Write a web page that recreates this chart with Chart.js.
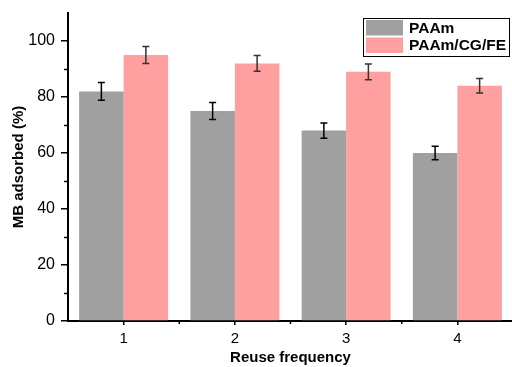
<!DOCTYPE html>
<html>
<head>
<meta charset="utf-8">
<script src="https://cdn.jsdelivr.net/npm/chart.js@4.4.1/dist/chart.umd.min.js"></script>
<style>
  html, body { margin: 0; padding: 0; background: #fff; overflow: hidden; width: 512px; height: 367px; }
  #wrap { position: absolute; left: 0; top: 0; width: 520px; height: 367px; }
  canvas { display: block; }
</style>
</head>
<body>
<div id="wrap"><canvas id="c" width="520" height="367"></canvas></div>
<script>
const categories = ['1', '2', '3', '4'];
const paamValues = [82, 75, 68, 60];
const paamErrors = [3.2, 3.0, 2.7, 2.4];
const compositeValues = [95, 92, 89, 84];
const compositeErrors = [3.0, 2.8, 2.8, 2.6];
const seriesLabels = ['PAAm', 'PAAm/CG/FE'];
const yMinorTicks = [10, 30, 50, 70, 90];

const FONT = '"Liberation Sans", Arial, sans-serif';

const errorBarPlugin = {
  id: 'errorBars',
  afterDatasetsDraw(chart) {
    const ctx = chart.ctx;
    const y = chart.scales.y;
    chart.data.datasets.forEach((ds, di) => {
      const meta = chart.getDatasetMeta(di);
      meta.data.forEach((bar, i) => {
        const v = ds.data[i], e = ds.errors[i];
        const top = y.getPixelForValue(v + e);
        const bot = y.getPixelForValue(v - e);
        const x = bar.x;
        ctx.save();
        ctx.strokeStyle = ds.errorColor;
        ctx.lineWidth = 1.5;
        ctx.beginPath();
        ctx.moveTo(x, top); ctx.lineTo(x, bot);
        ctx.moveTo(x - 3.5, top); ctx.lineTo(x + 3.5, top);
        ctx.moveTo(x - 3.5, bot); ctx.lineTo(x + 3.5, bot);
        ctx.stroke();
        ctx.restore();
      });
    });
  }
};

const minorTickPlugin = {
  id: 'minorTicks',
  afterDraw(chart) {
    const ctx = chart.ctx;
    const ys = chart.scales.y, xs = chart.scales.x;
    const area = chart.chartArea;
    ctx.save();
    ctx.strokeStyle = '#000';
    ctx.lineWidth = 1.5;
    ctx.beginPath();
    yMinorTicks.forEach(v => {
      const py = Math.round(ys.getPixelForValue(v)) + 0.5;
      ctx.moveTo(area.left - 4, py); ctx.lineTo(area.left, py);
    });
    for (let i = 0; i < categories.length - 1; i++) {
      const px = (xs.getPixelForValue(i) + xs.getPixelForValue(i + 1)) / 2;
      ctx.moveTo(px, area.bottom); ctx.lineTo(px, area.bottom + 3);
    }
    ctx.stroke();
    ctx.restore();
  }
};

const legendPlugin = {
  id: 'customLegend',
  afterDraw(chart) {
    const ctx = chart.ctx;
    const bx = 363, by = 18, bw = 146, bh = 38;
    ctx.save();
    ctx.strokeStyle = '#000';
    ctx.lineWidth = 1;
    ctx.strokeRect(bx + 0.5, by + 0.5, bw, bh);
    ctx.font = 'bold 15.5px ' + FONT;
    ctx.textBaseline = 'middle';
    ctx.fillStyle = '#000';
    chart.data.datasets.forEach((ds, i) => {
      const sy = by + 2 + i * 17.5;
      ctx.fillStyle = ds.backgroundColor;
      ctx.fillRect(bx + 3, sy, 37, 15.5);
      ctx.fillStyle = '#000';
      ctx.fillText(ds.label, bx + 46, sy + 8.5);
    });
    ctx.restore();
  }
};

new Chart(document.getElementById('c'), {
  type: 'bar',
  data: {
    labels: categories,
    datasets: [
      { label: seriesLabels[0], data: paamValues, errors: paamErrors, backgroundColor: '#a0a0a0', errorColor: '#000', borderWidth: 0 },
      { label: seriesLabels[1], data: compositeValues, errors: compositeErrors, backgroundColor: '#ffa0a0', errorColor: '#333', borderWidth: 0 }
    ]
  },
  options: {
    responsive: false,
    animation: false,
    devicePixelRatio: 1,
    datasets: { bar: { categoryPercentage: 0.8, barPercentage: 1.0 } },
    layout: { padding: { left: 0, top: 13, right: 7, bottom: 0 } },
    plugins: { legend: { display: false }, tooltip: { enabled: false } },
    scales: {
      x: {
        grid: { display: true, drawOnChartArea: false, offset: false, color: '#000', lineWidth: 1.5, tickLength: 4 },
        border: { display: true, color: '#000', width: 2 },
        ticks: { color: '#000', font: { family: FONT, size: 15 }, padding: 5, maxRotation: 0 },
        title: { display: true, text: 'Reuse frequency', color: '#000', font: { family: FONT, size: 15, weight: 'bold' }, padding: { top: 0, bottom: 0 } },
        afterFit(scale) { scale.height = 46; scale.paddingLeft = 0; scale.paddingRight = 0; }
      },
      y: {
        min: 0, max: 110,
        grid: { display: true, drawOnChartArea: false, color: '#000', lineWidth: 1.5, tickLength: 7 },
        border: { display: true, color: '#000', width: 2 },
        ticks: { stepSize: 20, includeBounds: false, color: '#000', font: { family: FONT, size: 16 }, padding: 6 },
        title: { display: true, text: 'MB adsorbed (%)', color: '#000', font: { family: FONT, size: 15, weight: 'bold' }, padding: { top: 10, bottom: 0 } },
        afterFit(scale) { scale.width = 68; scale.paddingTop = 0; scale.paddingBottom = 0; }
      }
    }
  },
  plugins: [errorBarPlugin, minorTickPlugin, legendPlugin]
});
</script>
</body>
</html>
